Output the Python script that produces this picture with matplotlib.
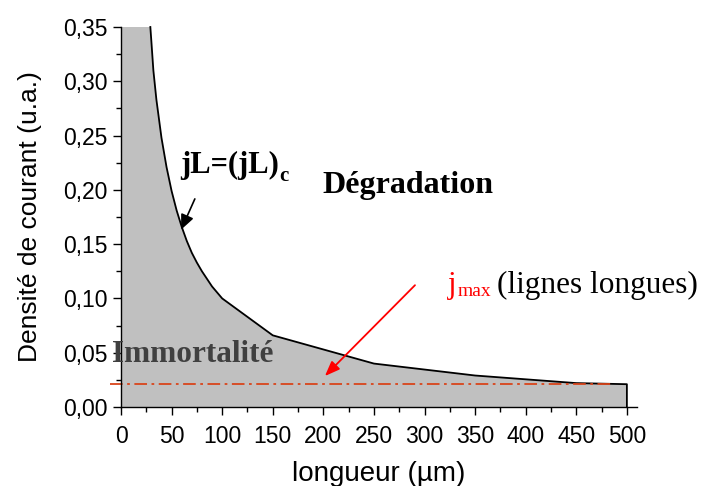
import matplotlib
matplotlib.use("Agg")
import matplotlib.pyplot as plt
from matplotlib.ticker import MultipleLocator, FuncFormatter

# Data
length_um = [29, 30, 32, 35, 40, 45, 50, 55, 60, 65, 70, 75, 80, 90, 100, 150, 250, 350, 450, 500]
current_density = [0.35, 0.337, 0.31, 0.283, 0.248, 0.221, 0.199, 0.181, 0.166, 0.153, 0.142,
                   0.133, 0.125, 0.111, 0.100, 0.066, 0.040, 0.029, 0.022, 0.021]
jmax_value = 0.021
jmax_range = [-11, 485]

x_ticks = [0, 50, 100, 150, 200, 250, 300, 350, 400, 450, 500]
y_ticks = [0.00, 0.05, 0.10, 0.15, 0.20, 0.25, 0.30, 0.35]

sans = ["Liberation Sans", "DejaVu Sans"]
serif = ["Liberation Serif", "DejaVu Serif"]

fig = plt.figure(figsize=(7.02, 4.86), dpi=100)
ax = fig.add_axes([121/702, 1-407/486, (637-121)/702, (407-27)/486])

# Filled region (Immortalité) under curve
fx = [0, 0] + length_um + [length_um[-1]]
fy = [0, current_density[0]] + current_density + [0]
ax.fill(fx, fy, color="#c0c0c0", lw=0, zorder=1)
ax.plot(length_um + [length_um[-1]], current_density + [0], color="black", lw=1.3, zorder=3,
        clip_on=False, solid_joinstyle="round")

# jmax dash-dot line
ax.plot(jmax_range, [jmax_value, jmax_value], color="#d9441a", lw=1.3,
        linestyle=(0, (7, 2.5, 1.5, 2.5)), zorder=4, clip_on=False)

ax.set_xlim(0, 510)
ax.set_ylim(0, 0.35)
ax.spines["top"].set_visible(False)
ax.spines["right"].set_visible(False)
for s in ("left", "bottom"):
    ax.spines[s].set_linewidth(1.0)
    ax.spines[s].set_zorder(5)

ax.set_xticks(x_ticks)
ax.set_yticks(y_ticks)
ax.xaxis.set_minor_locator(MultipleLocator(25))
ax.yaxis.set_minor_locator(MultipleLocator(0.025))
ax.yaxis.set_major_formatter(FuncFormatter(lambda v, p: f"{v:.2f}".replace(".", ",")))
ax.tick_params(which="major", direction="out", length=6, width=1.0, labelsize=16.5)
ax.tick_params(axis="x", which="major", pad=7)
ax.tick_params(axis="y", which="major", pad=3.5)
ax.tick_params(which="minor", direction="out", length=3.5, width=1.0)
for lab in ax.get_xticklabels() + ax.get_yticklabels():
    lab.set_family(sans)

ax.set_xlabel("longueur (µm)", fontsize=20, family=sans, labelpad=9)
ax.set_ylabel("Densité de courant (u.a.)", fontsize=19, family=sans, labelpad=15)

# Annotations
tjl = ax.text(58.3, 0.2155, "jL=(jL)", fontsize=22, fontweight="bold", family=serif,
              ha="left", va="baseline", zorder=6)
ax.annotate("c", xy=(1, 0), xycoords=tjl, xytext=(0.5, -4), textcoords="offset points",
            fontsize=15, fontweight="bold", family=serif, ha="left", va="bottom")
ax.text(199, 0.197, "Dégradation", fontsize=23, fontweight="bold", family=serif,
        ha="left", va="baseline", zorder=6)
ax.text(-9, 0.0414, "Immortalité", fontsize=22.5, fontweight="bold", family=serif, color="#404040",
        ha="left", va="baseline", zorder=6, clip_on=False)
tj = ax.text(323, 0.105, "j", fontsize=22.5, family=serif, color="#ff0000", ha="left", va="baseline", zorder=6)
ax.annotate("max", xy=(1, 0), xycoords=tj, xytext=(1, 0), textcoords="offset points",
            fontsize=14, family=serif, color="#ff0000", ha="left", va="bottom")
ax.text(372, 0.105, "(lignes longues)", fontsize=22.5, family=serif, color="black",
        ha="left", va="baseline", zorder=6, clip_on=False)

ax.annotate("", xy=(58.3, 0.161), xytext=(74.1, 0.194),
            arrowprops=dict(arrowstyle="-|>,head_length=0.9,head_width=0.4", color="black", lw=1.2), zorder=6)
ax.annotate("", xy=(199.6, 0.0267), xytext=(292.5, 0.114),
            arrowprops=dict(arrowstyle="-|>,head_length=0.9,head_width=0.35", color="#ff0000", lw=1.3), zorder=6)

fig.savefig("out.png", dpi=100)
